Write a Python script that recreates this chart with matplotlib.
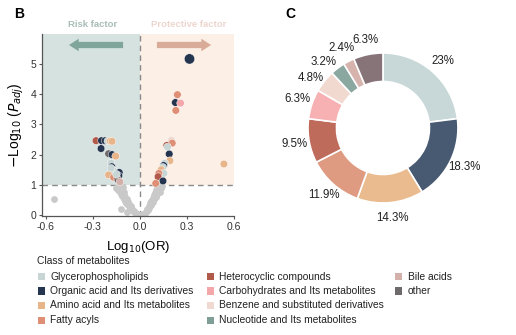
import matplotlib.pyplot as plt
from matplotlib.patches import Rectangle

plt.rcParams['font.family'] = ['Liberation Sans', 'DejaVu Sans']
plt.rcParams['axes.unicode_minus'] = False

CLASSES = ["Glycerophospholipids", "Organic acid and Its derivatives",
           "Amino acid and Its metabolites", "Fatty acyls",
           "Heterocyclic compounds", "Carbohydrates and Its metabolites",
           "Benzene and substituted derivatives",
           "Nucleotide and Its metabolites", "Bile acids", "other"]
COLORS = ["#c7d6d5", "#25344f", "#e8b58a", "#df8f75", "#b25a4a",
          "#f4a7aa", "#f0d9d0", "#7f9e96", "#d3b0aa", "#6e6a6b"]
PIE_COLORS = ["#c8d7d7", "#475a72", "#e9bb8e", "#df9a82", "#bf6b5c",
              "#f7b1b2", "#f2d9d0", "#8aa7a0", "#d6b3ad", "#877479"]

# non-significant metabolites (grey)
gray_x = [-0.135, -0.12, -0.15, -0.125, -0.11, -0.14, -0.118, -0.13, -0.105,
          -0.12, -0.1, -0.112, -0.095, -0.105, -0.085, -0.098, -0.075, -0.088,
          -0.07, -0.078, -0.06, -0.066, -0.05, -0.055, -0.04, -0.04, -0.028,
          -0.02, -0.01, -0.145,
          0.12, 0.105, 0.135, 0.115, 0.1, 0.125, 0.095, 0.11, 0.09, 0.1, 0.08,
          0.092, 0.072, 0.082, 0.062, 0.07, 0.055, 0.06, 0.045, 0.048, 0.035,
          0.03, 0.02, 0.012, 0.003, 0.14,
          -0.55, -0.12, -0.085]
gray_y = [0.97, 0.95, 0.9, 0.88, 0.92, 0.84, 0.8, 0.76, 0.78,
          0.7, 0.68, 0.62, 0.6, 0.55, 0.52, 0.47, 0.45, 0.4,
          0.37, 0.32, 0.3, 0.25, 0.22, 0.17, 0.14, 0.09, 0.07,
          0.04, 0.02, 0.93,
          0.97, 0.93, 0.9, 0.85, 0.82, 0.78, 0.74, 0.7, 0.66, 0.6, 0.57,
          0.52, 0.48, 0.43, 0.4, 0.34, 0.3, 0.25, 0.21, 0.16, 0.12,
          0.08, 0.05, 0.02, 0.01, 0.95,
          0.52, 0.19, 0.11]

# significant metabolites: log10(OR), -log10(Padj), class index
sig_x = [-0.28, -0.245, -0.222, -0.205, -0.19, -0.178, -0.248, -0.2, -0.178,
         -0.155, -0.185, -0.18, -0.17, -0.185, -0.132, -0.2, -0.168, -0.135,
         -0.145, -0.138, -0.128, -0.15,
         0.238, 0.225, 0.258, 0.228, 0.534, 0.2, 0.205, 0.17, 0.175, 0.186,
         0.19, 0.157, 0.15, 0.145, 0.135, 0.152, 0.12, 0.115, 0.146, 0.1,
         0.315]
sig_y = [2.46, 2.46, 2.46, 2.45, 2.45, 2.44, 2.2, 2.03, 2.0,
         1.95, 1.72, 1.6, 1.48, 1.55, 1.41, 1.33, 1.25, 1.3,
         1.2, 1.15, 1.1, 1.35,
         3.98, 3.72, 3.7, 3.46, 1.69, 2.48, 2.38, 2.3, 2.25, 2.02,
         1.8, 1.72, 1.64, 1.58, 1.5, 1.38, 1.38, 1.27, 1.13, 1.05,
         5.16]
sig_cls = [4, 1, 1, 0, 2, 2, 1, 9, 1,
           2, 0, 1, 0, 0, 1, 2, 3, 1,
           4, 9, 8, 0,
           3, 1, 5, 3, 2, 6, 3, 4, 0, 1,
           2, 0, 1, 0, 2, 0, 3, 4, 1, 3,
           1]
sig_size = [30] * 42 + [55]

pie_counts = [29, 23, 18, 15, 12, 8, 6, 4, 3, 8]
pie_labels = ["23%", "18.3%", "14.3%", "11.9%", "9.5%", "6.3%", "4.8%",
              "3.2%", "2.4%", "6.3%"]

W, H = 516, 335
fig = plt.figure(figsize=(W / 100, H / 100), dpi=100)

# ---- panel B: volcano
ax = fig.add_axes([0.082, 0.355, 0.372, 0.545])
ax.set_xlim(-0.622, 0.6)
ax.set_ylim(-0.03, 6.0)
ax.fill_between([-0.622, 0], 1, 6.0, color="#d6e2e0", lw=0, zorder=0)
ax.fill_between([0, 0.6], 1, 6.0, color="#fcefe6", lw=0, zorder=0)
ax.axvline(0, color="#8a8a8a", ls=(0, (4, 3)), lw=1, zorder=1)
ax.axhline(1, color="#8a8a8a", ls=(0, (4, 3)), lw=1, zorder=1)

ax.scatter(gray_x, gray_y, s=24, color="#c9c9c9", lw=0, zorder=2)
ax.scatter(sig_x, sig_y, s=sig_size, c=[COLORS[i] for i in sig_cls],
           edgecolors="white", linewidths=0.3, zorder=3)

astyle = "simple,head_length=0.7,head_width=0.9,tail_width=0.45"
ax.annotate("", xy=(-0.47, 5.62), xytext=(-0.09, 5.62),
            arrowprops=dict(arrowstyle=astyle, color="#80a69c", lw=0),
            zorder=4)
ax.annotate("", xy=(0.47, 5.62), xytext=(0.09, 5.62),
            arrowprops=dict(arrowstyle=astyle, color="#d9ab99", lw=0),
            zorder=4)
ax.text(-0.3, 6.29, "Risk factor", ha="center", va="center", fontsize=6.8,
        fontweight="bold", color="#a9bdb9", clip_on=False)
ax.text(0.31, 6.29, "Protective factor", ha="center", va="center",
        fontsize=6.8, fontweight="bold", color="#ecd6ce", clip_on=False)

ax.set_xticks([-0.6, -0.3, 0.0, 0.3, 0.6])
ax.set_xticklabels(["-0.6", "-0.3", "0.0", "0.3", "0.6"])
ax.set_yticks([0, 1, 2, 3, 4, 5])
ax.tick_params(labelsize=7.5, length=2.5, width=0.8, color="#555555",
               labelcolor="#333333", pad=2)
for s in ["top", "right"]:
    ax.spines[s].set_visible(False)
for s in ["left", "bottom"]:
    ax.spines[s].set_color("#555555")
    ax.spines[s].set_linewidth(0.9)
ax.set_xlabel("Log$_{10}$(OR)", fontsize=9.5, labelpad=5)
ax.set_ylabel("$-$Log$_{10}$ ($P_{adj}$)", fontsize=10, labelpad=3)

fig.text(14 / W, 1 - 14 / H, "B", fontsize=10, fontweight="bold",
         ha="left", va="center")
fig.text(285 / W, 1 - 14 / H, "C", fontsize=10, fontweight="bold",
         ha="left", va="center")

# ---- panel C: donut
pax = fig.add_axes([0.546, 0.3157, 0.3924, 0.6045])
wedges, texts = pax.pie(
    pie_counts, labels=pie_labels, colors=PIE_COLORS, startangle=90,
    counterclock=False, labeldistance=1.2,
    wedgeprops=dict(width=0.38, edgecolor="white", linewidth=1.2),
    textprops=dict(fontsize=8.3, color="#222222", ha="center", va="center"))
# nudge the two crowded small-slice labels apart
for i, (dx, dy) in {6: (-0.03, -0.08), 7: (-0.07, -0.08)}.items():
    px, py = texts[i].get_position()
    texts[i].set_position((px + dx, py + dy))
pax.set_xlim(-1.35, 1.35)
pax.set_ylim(-1.35, 1.35)
pax.set_aspect("equal")

# ---- legend (drawn by hand: 4 + 4 + 2 layout)
fig.text(37 / W, 1 - 261 / H, "Class of metabolites", fontsize=7.4,
         ha="left", va="center", color="#222222")
col_x = [38, 206.5, 395]
row_y = [276.7, 291, 305.3, 320.3]
for k, (name, col) in enumerate(zip(CLASSES, COLORS)):
    c, r = divmod(k, 4)
    x0, y0 = col_x[c], row_y[r]
    fig.patches.append(Rectangle((x0 / W, 1 - (y0 + 3.7) / H), 7.3 / W,
                                 7.3 / H, transform=fig.transFigure,
                                 facecolor=col, edgecolor="none"))
    fig.text((x0 + 12.5) / W, 1 - y0 / H, name, fontsize=7.4, ha="left",
             va="center", color="#222222")

fig.savefig("out.png", dpi=100)
